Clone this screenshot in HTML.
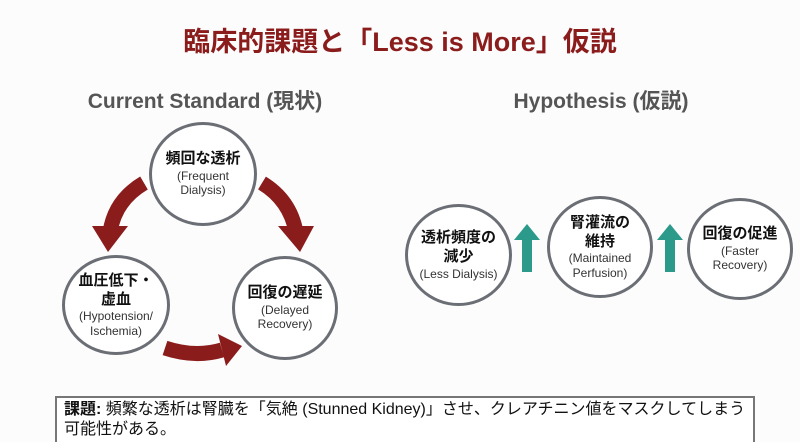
<!DOCTYPE html>
<html><head><meta charset="utf-8"><style>
body{margin:0;width:800px;height:442px;background:#fcfcfc;font-family:"Liberation Sans","Noto Sans CJK JP",sans-serif;overflow:hidden;position:relative}
.t{position:absolute;white-space:nowrap;text-align:center}
.c{position:absolute;border:3.5px solid #6b6f75;border-radius:50%;background:#fff;box-sizing:border-box;display:flex;flex-direction:column;align-items:center;justify-content:center;text-align:center;line-height:1.2}
.c b{font-size:15px;color:#111;line-height:1.25}
.c span{font-size:12px;color:#333}
</style></head><body>
<div class="t" style="left:55px;width:300px;top:85px;font-size:21px;font-weight:bold;color:#555">Current Standard (現状)</div>
<div class="t" style="left:0;width:800px;top:20px;font-size:27px;font-weight:bold;color:#8b1c1c">臨床的課題と「Less is More」仮説</div>
<div class="t" style="left:450px;width:302px;top:85px;font-size:21px;font-weight:bold;color:#555">Hypothesis (仮説)</div>
<svg width="800" height="442" style="position:absolute;left:0;top:0">
<g fill="none" stroke="#8b1c1c" stroke-width="15">
<path d="M144,183 Q115,200 110,232"/>
<path d="M262,183 Q290,200 296,232"/>
<path d="M165,348 Q195,358 222,350"/>
</g>
<g fill="#8b1c1c">
<polygon points="92,226 128,226 108,252"/>
<polygon points="278,226 314,226 300,252"/>
<polygon points="218,334 242,346 226,366"/>
</g>
<g fill="#2c9a8a">
<polygon points="514,240 527,224 540,240 532,240 532,272 522,272 522,240"/>
<polygon points="657,240 670,224 683,240 675,240 675,272 665,272 665,240"/>
</g>
</svg>
<div class="c" style="left:149px;top:122px;width:108px;height:104px"><b>頻回な透析</b><span>(Frequent<br>Dialysis)</span></div>
<div class="c" style="left:62px;top:255px;width:108px;height:100px"><b>血圧低下・<br>虚血</b><span>(Hypotension/<br>Ischemia)</span></div>
<div class="c" style="left:232px;top:256px;width:106px;height:104px"><b>回復の遅延</b><span>(Delayed<br>Recovery)</span></div>
<div class="c" style="left:405px;top:204px;width:107px;height:102px"><b>透析頻度の<br>減少</b><span>(Less Dialysis)</span></div>
<div class="c" style="left:547px;top:196px;width:106px;height:102px"><b>腎灌流の<br>維持</b><span>(Maintained<br>Perfusion)</span></div>
<div class="c" style="left:687px;top:198px;width:106px;height:102px"><b>回復の促進</b><span>(Faster<br>Recovery)</span></div>
<div style="position:absolute;left:55px;top:396px;width:700px;height:46px;box-sizing:border-box;border:2px solid #777;border-bottom:none;background:#fff;padding:2px 7px;font-size:16px;line-height:20px;color:#111;white-space:nowrap"><b>課題:</b> 頻繁な透析は腎臓を「気絶 (Stunned Kidney)」させ、クレアチニン値をマスクしてしまう<br>可能性がある。</div>
</body></html>
